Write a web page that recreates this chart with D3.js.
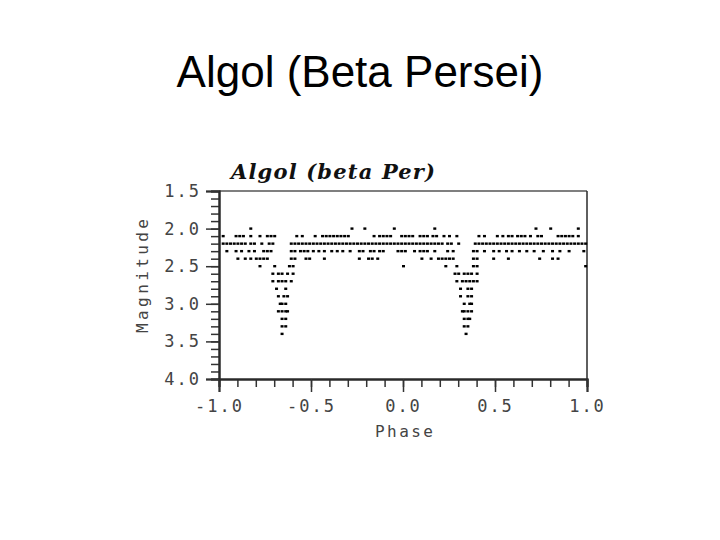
<!DOCTYPE html>
<html>
<head>
<meta charset="utf-8">
<script src="https://cdn.jsdelivr.net/npm/d3@7"></script>
<style>
  html, body { margin: 0; padding: 0; background: #fff; }
  svg { display: block; }
</style>
</head>
<body>
<svg id="chart" width="720" height="540"></svg>
<script>
// ---- Data (phase values of observed points, grouped by magnitude row) ----
const mainTitle = "Algol (Beta Persei)";
const plotTitle = "Algol (beta Per)";
const xLabel = "Phase";
const yLabel = "Magnitude";
const xTickValues = [-1.0, -0.5, 0.0, 0.5, 1.0];
const xTickLabels = ["-1.0", "-0.5", "0.0", "0.5", "1.0"];
const yTickValues = [1.5, 2.0, 2.5, 3.0, 3.5, 4.0];
const yTickLabels = ["1.5", "2.0", "2.5", "3.0", "3.5", "4.0"];

const mag20 = [-0.83, -0.28, -0.21, -0.05, 0.17, 0.72, 0.80, 0.95];
const mag21 = [-0.98, -0.91, -0.89, -0.87, -0.83, -0.78, -0.74, -0.72, -0.70, -0.58, -0.55,
  -0.48, -0.44, -0.42, -0.40, -0.38, -0.36, -0.34, -0.32, -0.30, -0.16, -0.13, -0.11, -0.09, -0.07,
  -0.01, 0.01, 0.03, 0.05, 0.09, 0.11, 0.13, 0.16, 0.18, 0.22, 0.25, 0.29, 0.41, 0.44, 0.51, 0.54,
  0.57, 0.59, 0.62, 0.64, 0.66, 0.69, 0.73, 0.75, 0.84, 0.86, 0.88, 0.90, 0.92, 0.95];
const mag22 = [-0.98, -0.96, -0.94, -0.92, -0.90, -0.88, -0.86, -0.83, -0.81, -0.77, -0.73, -0.71,
  -0.61, -0.59, -0.57, -0.55, -0.53, -0.51, -0.49, -0.47, -0.45, -0.43, -0.41, -0.39, -0.37, -0.35,
  -0.33, -0.31, -0.29, -0.27, -0.25, -0.23, -0.21, -0.19, -0.17, -0.15, -0.13, -0.11, -0.09, -0.07,
  -0.05, -0.03, -0.01, 0.01, 0.03, 0.05, 0.07, 0.09, 0.11, 0.13, 0.15, 0.17, 0.19, 0.21, 0.24, 0.26,
  0.30, 0.39, 0.41, 0.43, 0.45, 0.47, 0.49, 0.51, 0.53, 0.55, 0.57, 0.59, 0.61, 0.63, 0.65, 0.67,
  0.69, 0.71, 0.73, 0.75, 0.77, 0.79, 0.81, 0.83, 0.85, 0.87, 0.89, 0.91, 0.93, 0.95, 0.97, 0.99];
const mag23 = [-0.96, -0.91, -0.88, -0.84, -0.81, -0.76, -0.74, -0.72, -0.61, -0.59, -0.56, -0.54,
  -0.52, -0.49, -0.46, -0.43, -0.39, -0.36, -0.33, -0.29, -0.24, -0.22, -0.18, -0.16, -0.13, -0.11,
  -0.03, -0.01, 0.01, 0.06, 0.09, 0.11, 0.13, 0.17, 0.24, 0.27, 0.38, 0.40, 0.44, 0.49, 0.52, 0.56,
  0.59, 0.63, 0.67, 0.71, 0.76, 0.81, 0.85, 0.90, 0.98];
const mag24 = [-0.90, -0.86, -0.83, -0.80, -0.78, -0.76, -0.74, -0.61, -0.59, -0.53, -0.51, -0.43,
  -0.24, -0.19, -0.17, -0.14, 0.10, 0.15, 0.19, 0.21, 0.23, 0.25, 0.27, 0.38, 0.40, 0.49, 0.57,
  0.74, 0.81, 0.84];
const mag25 = [-0.78, -0.70, -0.62, -0.60, 0.00, 0.23, 0.29, 0.38, 0.40, 0.99];
const mag26 = [-0.71, -0.68, -0.66, -0.63, -0.60, 0.28, 0.30, 0.33, 0.35, 0.37, 0.40];
const mag27 = [-0.71, -0.68, -0.66, -0.64, -0.61, 0.29, 0.32, 0.34, 0.36, 0.38, 0.40];
const mag28 = [-0.69, -0.64, 0.31, 0.35, 0.37];
const mag29 = [-0.68, -0.65, -0.63, 0.31, 0.35, 0.37];
const mag30 = [-0.67, -0.66, -0.64, 0.33, 0.36, 0.37];
const mag31 = [-0.68, -0.66, -0.64, -0.63, 0.32, 0.33, 0.35, 0.37];
const mag32 = [-0.66, -0.64, 0.33, 0.35, 0.36];
const mag33 = [-0.66, -0.64, 0.33, 0.35];
const mag34 = [-0.66, 0.34];

const rowMags = [2.0, 2.1, 2.2, 2.3, 2.4, 2.5, 2.6, 2.7, 2.8, 2.9, 3.0, 3.1, 3.2, 3.3, 3.4];
const rowPhases = [mag20, mag21, mag22, mag23, mag24, mag25, mag26, mag27, mag28, mag29, mag30,
  mag31, mag32, mag33, mag34];

const points = [];
rowMags.forEach((m, i) => rowPhases[i].forEach(p => points.push({ phase: p, mag: m })));

// ---- Layout ----
const svg = d3.select("#chart");
const x = d3.scaleLinear().domain([-1, 1]).range([219, 587]);
const y = d3.scaleLinear().domain([1.5, 4.0]).range([191, 379]);

const axisFont = "'DejaVu Sans Mono', 'Liberation Mono', monospace";
const axisColor = "#2a2a2a";

// Main title
svg.append("text")
  .attr("x", 360).attr("y", 87)
  .attr("text-anchor", "middle")
  .attr("font-family", "'Liberation Sans', Arial, sans-serif")
  .attr("font-size", 44)
  .attr("fill", "#000")
  .text(mainTitle);

// Plot title
svg.append("text")
  .attr("x", 231).attr("y", 179)
  .attr("font-family", "'DejaVu Serif', 'Liberation Serif', serif")
  .attr("font-style", "italic")
  .attr("font-weight", "bold")
  .attr("font-size", 21)
  .attr("fill", "#111")
  .attr("textLength", 204)
  .attr("lengthAdjust", "spacing")
  .text(plotTitle);

// Frame top and right
svg.append("line")
  .attr("x1", x(-1)).attr("x2", x(1)).attr("y1", y(1.5)).attr("y2", y(1.5))
  .attr("stroke", "#555").attr("stroke-width", 1.5);
svg.append("line")
  .attr("x1", x(1)).attr("x2", x(1)).attr("y1", y(1.5)).attr("y2", y(4.0))
  .attr("stroke", axisColor).attr("stroke-width", 1.5);

// Minor ticks
const minorX = d3.range(-10, 11).map(d => d / 10);
const minorY = d3.range(15, 41).map(d => d / 10);

const gxMinor = svg.append("g").attr("transform", `translate(0,${y(4.0)})`)
  .call(d3.axisBottom(x).tickValues(minorX).tickSize(8).tickFormat(""));
const gyMinor = svg.append("g").attr("transform", `translate(${x(-1)},0)`)
  .call(d3.axisLeft(y).tickValues(minorY).tickSize(8).tickFormat(""));

// Major ticks with labels
const gx = svg.append("g").attr("transform", `translate(0,${y(4.0)})`)
  .call(d3.axisBottom(x).tickValues(xTickValues).tickSize(13).tickPadding(8)
    .tickFormat((d, i) => xTickLabels[i]));
const gy = svg.append("g").attr("transform", `translate(${x(-1)},0)`)
  .call(d3.axisLeft(y).tickValues(yTickValues).tickSize(13).tickPadding(7)
    .tickFormat((d, i) => yTickLabels[i]));

[gxMinor, gyMinor, gx, gy].forEach(g => {
  g.selectAll("path.domain").attr("stroke", axisColor).attr("stroke-width", 2);
  g.selectAll(".tick line").attr("stroke", "#333").attr("stroke-width", 1.5);
});
[gx, gy].forEach(g => {
  g.selectAll(".tick text")
    .attr("font-family", axisFont)
    .attr("font-size", 17)
    .attr("fill", "#444")
    .attr("letter-spacing", 2);
});
gy.selectAll(".tick text").attr("dx", 2);

// Axis labels
svg.append("text")
  .attr("x", 404).attr("y", 437)
  .attr("text-anchor", "middle")
  .attr("font-family", axisFont)
  .attr("font-size", 16)
  .attr("fill", "#444")
  .attr("textLength", 58)
  .attr("lengthAdjust", "spacing")
  .text(xLabel);

svg.append("text")
  .attr("transform", "translate(148,276) rotate(-90)")
  .attr("text-anchor", "middle")
  .attr("font-family", axisFont)
  .attr("font-size", 16)
  .attr("fill", "#444")
  .attr("textLength", 114)
  .attr("lengthAdjust", "spacing")
  .text(yLabel);

// Points
svg.append("g").selectAll("rect")
  .data(points)
  .enter().append("rect")
  .attr("x", d => x(d.phase) - 1)
  .attr("y", d => y(d.mag) - 1.2)
  .attr("width", 3)
  .attr("height", 2.4)
  .attr("fill", "#000");
</script>
</body>
</html>
